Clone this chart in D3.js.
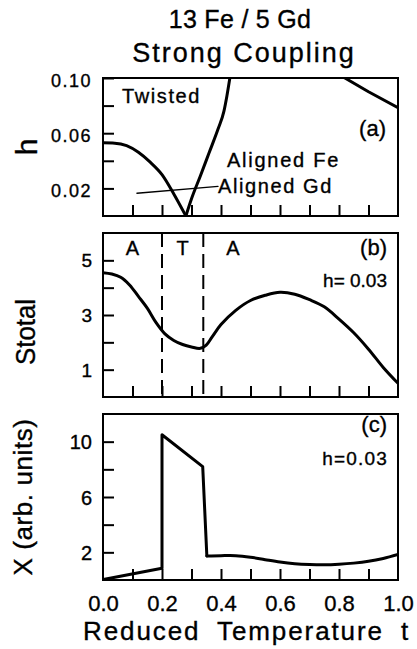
<!DOCTYPE html>
<html>
<head>
<meta charset="utf-8">
<script src="https://cdn.jsdelivr.net/npm/d3@7"></script>
<style>
  html, body { margin: 0; padding: 0; background: #fff; }
  svg { display: block; }
  text { font-family: "Liberation Sans", Arial, sans-serif; fill: #000; stroke: #000; stroke-width: 0.35px; }
</style>
</head>
<body>
<svg id="chart" width="417" height="649"></svg>
<script>
// ---- (a) phase diagram h(t) ----
const gdBoundaryT = [0, 0.04, 0.08, 0.12, 0.16, 0.20, 0.24, 0.281];
const gdBoundaryH = [0.053, 0.0528, 0.051, 0.0462, 0.039, 0.030, 0.016, 0.0];
const feBoundaryT = [0.281, 0.30, 0.33, 0.36, 0.39, 0.41, 0.42, 0.43];
const feBoundaryH = [0.0, 0.0125, 0.029, 0.046, 0.063, 0.076, 0.087, 0.10];
const upperBoundaryT = [0.82, 0.90, 1.0];
const upperBoundaryH = [0.10, 0.090, 0.0785];
const gdPointerT = [0.115, 0.39];
const gdPointerH = [0.0165, 0.0215];

// ---- (b) total moment at h = 0.03 ----
const sTotalT = [0, 0.03, 0.06, 0.09, 0.12, 0.15, 0.18, 0.21, 0.24, 0.27, 0.30, 0.33, 0.35, 0.37,
                 0.40, 0.45, 0.50, 0.55, 0.60, 0.65, 0.70, 0.75, 0.80, 0.85, 0.90, 0.95, 1.0];
const sTotalV = [4.55, 4.50, 4.38, 4.10, 3.68, 3.25, 2.72, 2.31, 2.07, 1.92, 1.83, 1.78, 1.90, 2.20,
                 2.65, 3.17, 3.53, 3.72, 3.83, 3.76, 3.56, 3.30, 2.85, 2.35, 1.75, 1.08, 0.50];
const phaseEdges = [0.2, 0.34];
const phaseNames = ["A", "T", "A"];

// ---- (c) susceptibility at h = 0.03 ----
const chiStepT = [0, 0.2, 0.2, 0.338, 0.352];
const chiStepV = [0.03, 0.85, 10.5, 8.2, 1.74];
const chiTailT = [0.352, 0.40, 0.45, 0.50, 0.55, 0.60, 0.65, 0.70, 0.75, 0.80, 0.85, 0.90, 0.95, 1.0];
const chiTailV = [1.74, 1.76, 1.76, 1.65, 1.47, 1.30, 1.18, 1.12, 1.10, 1.14, 1.22, 1.35, 1.56, 1.85];

// ---- ticks ----
const tTicks = [0.1, 0.2, 0.3, 0.4, 0.5, 0.6, 0.7, 0.8, 0.9];
const tLabels = [0, 0.2, 0.4, 0.6, 0.8, 1.0];
const hTicks = [0.02, 0.04, 0.06, 0.08, 0.10];
const hLabels = [0.02, 0.06, 0.10];
const sTicks = [1, 2, 3, 4, 5];
const sLabels = [1, 3, 5];
const chiTicks = [2, 4, 6, 8, 10];
const chiLabels = [2, 6, 10];

const svg = d3.select("#chart");
svg.append("rect").attr("width", 417).attr("height", 649).attr("fill", "#fff");

const x = d3.scaleLinear().domain([0, 1]).range([103, 398]);
const yA = d3.scaleLinear().domain([0, 0.1]).range([216, 78]);
const yB = d3.scaleLinear().domain([0, 6]).range([397, 233]);
const yC = d3.scaleLinear().domain([0, 12]).range([580, 414]);

const zip = (ts, vs) => ts.map((t, i) => [t, vs[i]]);

// title
svg.append("text").attr("x", 240).attr("y", 28).attr("text-anchor", "middle")
  .attr("font-size", 25).attr("letter-spacing", 0.3).text("13 Fe / 5 Gd");
svg.append("text").attr("x", 244).attr("y", 62).attr("text-anchor", "middle")
  .attr("font-size", 27).attr("letter-spacing", 2).text("Strong Coupling");

function panel(id, y, yTicks, yLabels, yFmt, yFont, yLs, yDy, showTLabels) {
  const [b, t] = y.range();
  const g = svg.append("g").attr("class", "panel-" + id);
  const clipId = "clip-" + id;
  svg.append("clipPath").attr("id", clipId)
    .append("rect").attr("x", x(0)).attr("y", t).attr("width", x(1) - x(0)).attr("height", b - t);

  // inward ticks on the left
  const ya = g.append("g").attr("transform", `translate(${x(0)},0)`)
    .call(d3.axisLeft(y).tickValues(yTicks).tickSize(-11).tickPadding(11)
      .tickFormat(v => yLabels.includes(v) ? yFmt(v) : ""));
  ya.select(".domain").remove();
  ya.attr("font-family", null).attr("font-size", null);
  ya.selectAll(".tick line").attr("stroke", "#000").attr("stroke-width", 2);
  ya.selectAll(".tick text").attr("font-size", yFont).attr("letter-spacing", yLs).attr("dy", yDy);

  // inward ticks along the bottom
  const xa = g.append("g").attr("transform", `translate(0,${b})`)
    .call(d3.axisBottom(x).tickValues(tTicks).tickSize(-11).tickFormat(""));
  xa.select(".domain").remove();
  xa.selectAll(".tick line").attr("stroke", "#000").attr("stroke-width", 2);

  if (showTLabels) {
    const xl = g.append("g").attr("transform", `translate(0,${b})`)
      .call(d3.axisBottom(x).tickValues(tLabels).tickSize(0).tickPadding(15)
        .tickFormat(d3.format(".1f")));
    xl.select(".domain").remove();
    xl.attr("font-family", null).attr("font-size", null);
    xl.selectAll(".tick text").attr("font-size", 22);
  }

  g.append("rect").attr("x", x(0)).attr("y", t).attr("width", x(1) - x(0)).attr("height", b - t)
    .attr("fill", "none").attr("stroke", "#000").attr("stroke-width", 2);

  return { g, clip: `url(#${clipId})` };
}

function curve(p, y, pts, curveType, width) {
  p.g.append("path").datum(pts).attr("clip-path", p.clip)
    .attr("fill", "none").attr("stroke", "#000").attr("stroke-width", width)
    .attr("stroke-linejoin", "round").attr("stroke-linecap", "round")
    .attr("d", d3.line().x(d => x(d[0])).y(d => y(d[1])).curve(curveType));
}

// ---------- panel (a) ----------
const pa = panel("a", yA, hTicks, hLabels, d3.format(".2f"), 18, 1.5, "0.45em", false);
curve(pa, yA, zip(gdBoundaryT, gdBoundaryH), d3.curveMonotoneX, 3);
curve(pa, yA, zip(feBoundaryT, feBoundaryH), d3.curveMonotoneX, 3);
curve(pa, yA, zip(upperBoundaryT, upperBoundaryH), d3.curveLinear, 3);
curve(pa, yA, zip(gdPointerT, gdPointerH), d3.curveLinear, 1.3);
pa.g.append("text").attr("x", 122).attr("y", 103).attr("font-size", 20).attr("letter-spacing", 1.6).text("Twisted");
pa.g.append("text").attr("x", 386).attr("y", 136).attr("text-anchor", "end").attr("font-size", 22).text("(a)");
pa.g.append("text").attr("x", 227).attr("y", 167).attr("font-size", 20).attr("letter-spacing", 1.75).text("Aligned Fe");
pa.g.append("text").attr("x", 218).attr("y", 193).attr("font-size", 20).attr("letter-spacing", 1.6).text("Aligned Gd");

// ---------- panel (b) ----------
const pb = panel("b", yB, sTicks, sLabels, d3.format("d"), 19, 0, "0.35em", false);
phaseEdges.forEach(e => {
  pb.g.append("line").attr("x1", x(e)).attr("x2", x(e)).attr("y1", yB.range()[1]).attr("y2", yB.range()[0])
    .attr("stroke", "#000").attr("stroke-width", 2).attr("stroke-dasharray", "14,7");
});
const phaseCenters = [phaseEdges[0] / 2, (phaseEdges[0] + phaseEdges[1]) / 2, phaseEdges[1] + 0.1];
phaseNames.forEach((n, i) => {
  pb.g.append("text").attr("x", x(phaseCenters[i])).attr("y", 255).attr("text-anchor", "middle")
    .attr("font-size", 20).text(n);
});
curve(pb, yB, zip(sTotalT, sTotalV), d3.curveCatmullRom.alpha(0.5), 3);
pb.g.append("text").attr("x", 387).attr("y", 255).attr("text-anchor", "end").attr("font-size", 22).text("(b)");
pb.g.append("text").attr("x", 387).attr("y", 287).attr("text-anchor", "end").attr("font-size", 19).text("h= 0.03");

// ---------- panel (c) ----------
const pc = panel("c", yC, chiTicks, chiLabels, d3.format("d"), 20, 0, "0.35em", true);
curve(pc, yC, zip(chiStepT, chiStepV), d3.curveLinear, 3);
curve(pc, yC, zip(chiTailT, chiTailV), d3.curveCatmullRom.alpha(0.5), 3);
pc.g.append("text").attr("x", 387).attr("y", 432).attr("text-anchor", "end").attr("font-size", 22).text("(c)");
pc.g.append("text").attr("x", 388).attr("y", 465).attr("text-anchor", "end").attr("font-size", 19)
  .attr("letter-spacing", 1.2).text("h=0.03");

// ---------- axis titles ----------
svg.append("text").attr("transform", "translate(37,147) rotate(-90)").attr("text-anchor", "middle")
  .attr("font-size", 30).text("h");
svg.append("text").attr("transform", "translate(35,332) rotate(-90)").attr("text-anchor", "middle")
  .attr("font-size", 27).attr("textLength", 66).attr("lengthAdjust", "spacingAndGlyphs").text("Stotal");
svg.append("text").attr("transform", "translate(32,497) rotate(-90)").attr("text-anchor", "middle")
  .attr("font-size", 26).attr("letter-spacing", 0.6).text("X (arb. units)");
svg.append("text").attr("x", 83).attr("y", 640)
  .attr("font-size", 26).attr("letter-spacing", 1.9).attr("word-spacing", 8).text("Reduced Temperature t");
</script>
</body>
</html>
